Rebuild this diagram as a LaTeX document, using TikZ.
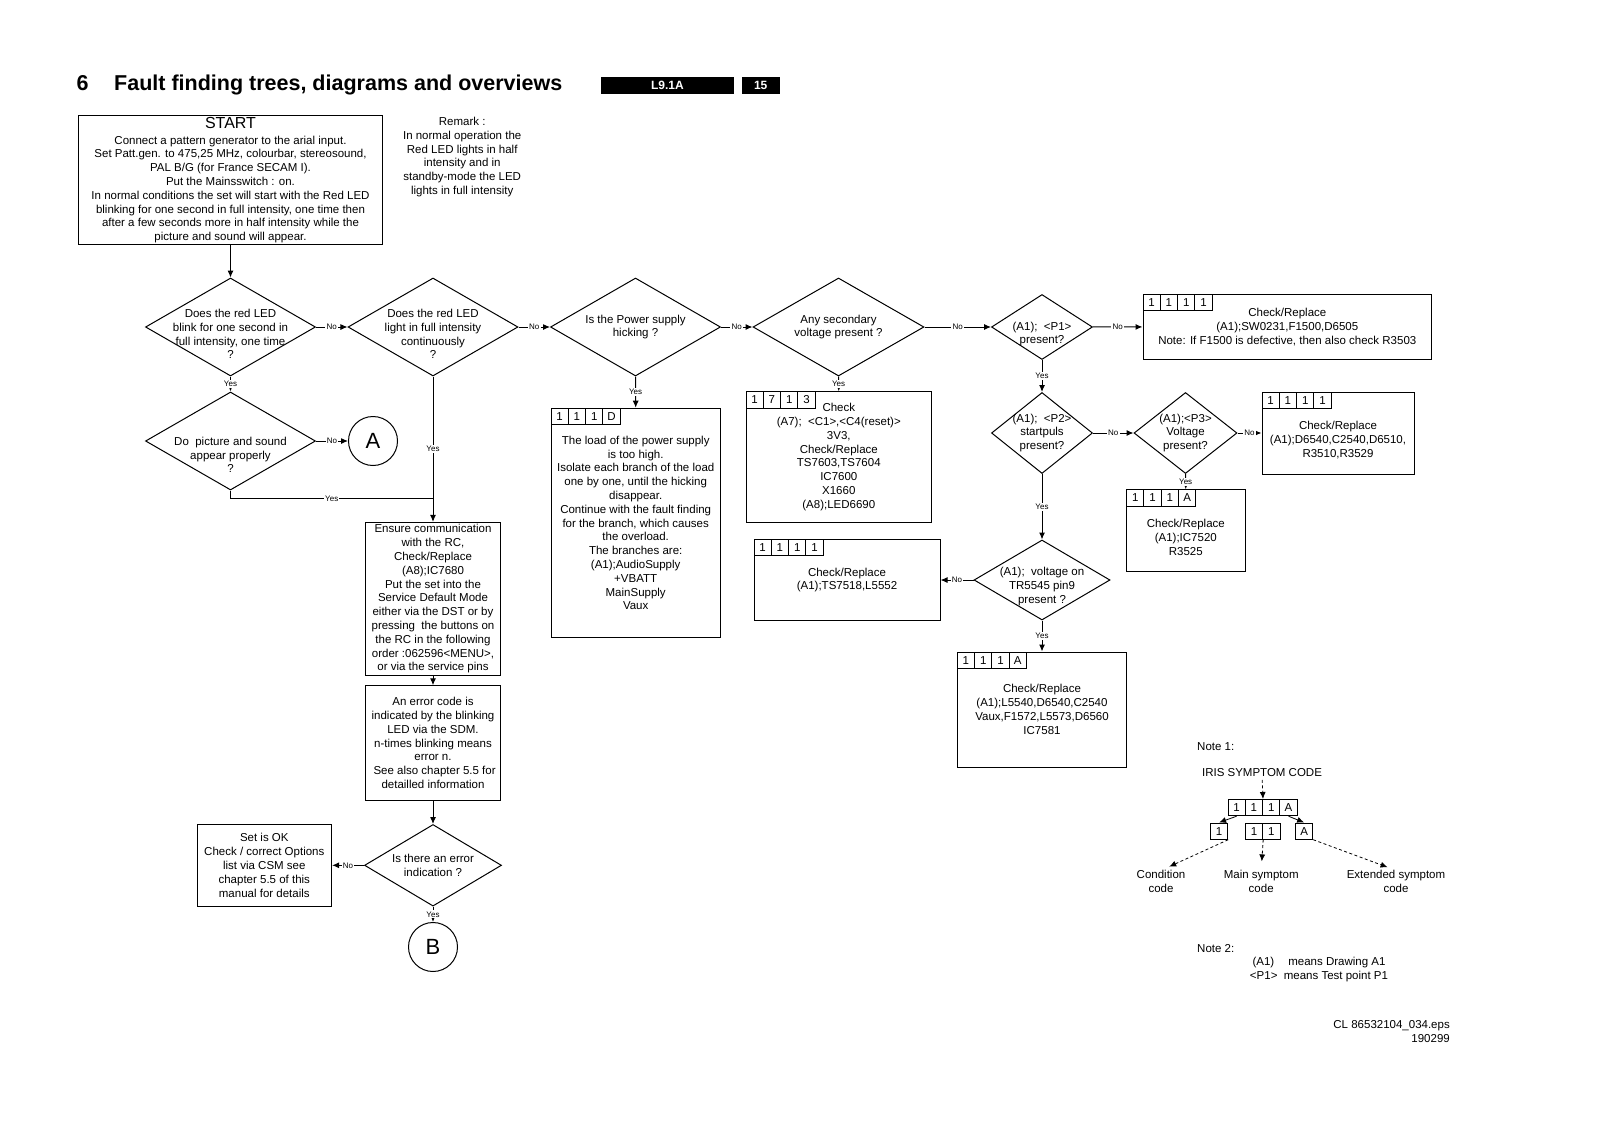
\documentclass[tikz,border=0pt]{standalone}
\usepackage{fontspec}
\setmainfont{Liberation Sans}
\usetikzlibrary{arrows.meta,shapes.geometric}

\begin{document}
\begin{tikzpicture}[x=1pt, y=-1pt,
    txt/.style      = {font=\fontsize{11.5}{13.8}\selectfont, align=center, inner sep=0pt},
    box/.style      = {txt, draw, line width=1pt},
    decision/.style = {draw, diamond, line width=1pt, inner sep=0pt},
    cell/.style     = {draw, line width=0.9pt, minimum width=17.3pt, minimum height=16.3pt,
                       inner sep=0pt, font=\fontsize{11.5}{13.8}\selectfont},
    conn/.style     = {draw, circle, line width=1pt, minimum size=49pt, inner sep=0pt,
                       font=\fontsize{22}{22}\selectfont},
    tag/.style      = {font=\fontsize{8}{9}\selectfont, fill=white, inner sep=1.2pt},
    flow/.style     = {line width=1pt, -{Latex[length=7pt,width=6pt]}},
    link/.style     = {line width=1pt},
    dflow/.style    = {line width=0.8pt, dash pattern=on 3pt off 2.5pt, -{Latex[length=7pt,width=6pt]}},
    bar/.style      = {fill=black, text=white, inner sep=0pt, minimum height=17.4pt,
                       font=\bfseries\fontsize{12}{13}\selectfont},
  ]
  \useasboundingbox (0,0) rectangle (1600,1132);

  % heading
  \node[anchor=base west, inner sep=0pt, font=\bfseries\fontsize{21.5}{24}\selectfont] (chapnum) at (76.5,90.5) {6};
  \node[anchor=base west, inner sep=0pt, font=\bfseries\fontsize{21.5}{24}\selectfont] (chaptitle) at (114,90.5)
       {Fault finding trees, diagrams and overviews};
  \node[bar, minimum width=132.7pt] (model) at (667.4,85.2) {L9.1A};
  \node[bar, minimum width=37.8pt] (page) at (760.7,85.2) {15};

  % start and remark
  \node[box, minimum width=304pt, minimum height=129.6pt] (start) at (230.5,180.1)
       {{\fontsize{16}{18}\selectfont START}\\[2pt]
        Connect a pattern generator to the arial input.\\
        Set Patt.gen. to 475,25 MHz, colourbar, stereosound,\\
        PAL B/G (for France SECAM I).\\
        Put the Mainsswitch : on.\\
        In normal conditions the set will start with the Red LED\\
        blinking for one second in full intensity, one time then\\
        after a few seconds more in half intensity while the\\
        picture and sound will appear.};
  \node[txt] (remark) at (462.2,157)
       {Remark :\\In normal operation the\\Red LED lights in half\\intensity and in\\standby-mode the LED\\lights in full intensity};

  % decisions, top row
  \node[decision, minimum width=170pt, minimum height=98pt] (ledblink) at (230.5,327) {};
  \node[decision, minimum width=170pt, minimum height=98pt] (ledcont) at (433,327) {};
  \node[decision, minimum width=170pt, minimum height=98pt] (hicking) at (635.5,327) {};
  \node[decision, minimum width=171pt, minimum height=98pt] (secvolt) at (838.5,327) {};
  \node[decision, minimum width=101pt, minimum height=65pt] (pone) at (1042,327) {};
  \node[txt] (ledblinktext) at ([yshift=-7pt]ledblink) {Does the red LED\\blink for one second in\\full intensity, one time\\?};
  \node[txt] (ledconttext) at ([yshift=-7pt]ledcont) {Does the red LED\\light in full intensity\\continuously\\?};
  \node[txt] (hickingtext) at (hicking) {Is the Power supply\\hicking ?};
  \node[txt] (secvolttext) at (secvolt) {Any secondary\\voltage present ?};
  \node[txt] (ponetext) at ([yshift=-7pt]pone) {(A1);\ \ <P1>\\present?};

  \node[decision, minimum width=170pt, minimum height=98pt] (picsound) at (230.5,441) {};
  \node[txt] (picsoundtext) at ([yshift=-14pt]picsound) {Do\ \ picture and sound\\appear properly\\?};
  \node[conn] (conA) at (373,441) {A};

  \node[decision, minimum width=101pt, minimum height=81pt] (ptwo) at (1042,433) {};
  \node[txt] (ptwotext) at (ptwo) {(A1);\ \ <P2>\\startpuls\\present?};
  \node[decision, minimum width=103pt, minimum height=81pt] (pthree) at (1185.5,433) {};
  \node[txt] (pthreetext) at (pthree) {(A1);<P3>\\Voltage\\present?};
  \node[decision, minimum width=136pt, minimum height=80pt] (pinnine) at (1042,580) {};
  \node[txt] (pinninetext) at ([yshift=-6.5pt]pinnine) {(A1);\ \ voltage on\\TR5545 pin9\\present ?};

  % check boxes
  \node[box, minimum width=288.6pt, minimum height=65.2pt] (swfuse) at (1287.3,326.8)
       {Check/Replace\\(A1);SW0231,F1500,D6505\\Note: If F1500 is defective, then also check R3503};
  \node[box, minimum width=169.4pt, minimum height=229.6pt] (load) at (635.7,523)
       {The load of the power supply\\is too high.\\Isolate each branch of the load\\one by one, until the hicking\\disappear.\\
        Continue with the fault finding\\for the branch, which causes\\the overload.\\The branches are:\\
        (A1);AudioSupply\\+VBATT\\MainSupply\\Vaux};
  \node[box, minimum width=185.6pt, minimum height=130.6pt] (reset) at (838.8,457.1)
       {Check\\(A7);\ \ <C1>,<C4(reset)>\\3V3,\\Check/Replace\\TS7603,TS7604\\IC7600\\X1660\\(A8);LED6690};
  \node[box, minimum width=152pt, minimum height=82pt] (auxsupply) at (1338,433) {};
  \node[txt] (auxsupplytext) at ([yshift=-7pt]auxsupply) {Check/Replace\\(A1);D6540,C2540,D6510,\\R3510,R3529};
  \node[box, minimum width=118.4pt, minimum height=81.6pt] (icbox) at (1185.8,530.6) {};
  \node[txt] (icboxtext) at ([yshift=-6.5pt]icbox) {Check/Replace\\(A1);IC7520\\R3525};
  \node[box, minimum width=186pt, minimum height=81.4pt] (tsbox) at (847,580)
       {Check/Replace\\(A1);TS7518,L5552};
  \node[box, minimum width=169.4pt, minimum height=115pt] (lbox) at (1042,709.5)
       {Check/Replace\\(A1);L5540,D6540,C2540\\Vaux,F1572,L5573,D6560\\IC7581};

  % code cells
  \foreach \b/\code in {swfuse/{1,1,1,1}, load/{1,1,1,D}, reset/{1,7,1,3}, auxsupply/{1,1,1,1},
                        icbox/{1,1,1,A}, tsbox/{1,1,1,1}, lbox/{1,1,1,A}}
    \foreach \c [count=\i] in \code
      \node[cell, anchor=north west] (\b-\i) at ([xshift={(\i-1)*17.3}]\b.north west) {\c};

  % left column
  \node[box, minimum width=135.7pt, minimum height=153.1pt] (ensure) at (433,599)
       {Ensure communication\\with the RC,\\Check/Replace\\(A8);IC7680\\Put the set into the\\Service Default Mode\\
        either via the DST or by\\pressing\ \ the buttons on\\the RC in the following\\order :062596<MENU>,\\or via the service pins};
  \node[box, minimum width=135.7pt, minimum height=114.3pt] (errcode) at (433,742.9)
       {An error code is\\indicated by the blinking\\LED via the SDM.\\n-times blinking means\\error n.\\
        \ See also chapter 5.5 for\\detailled information};
  \node[decision, minimum width=137pt, minimum height=81.6pt] (errind) at (433,865.3) {};
  \node[txt] (errindtext) at (errind) {Is there an error\\indication ?};
  \node[box, minimum width=134.6pt, minimum height=81.6pt] (setok) at (264.3,865.3)
       {Set is OK\\Check / correct Options\\list via CSM see\\chapter 5.5 of this\\manual for details};
  \node[conn] (conB) at (433,947) {B};

  \coordinate (join) at (433,498.3);

  % connectors
  \draw[flow] (start.south) -- (ledblink.north);
  \draw[flow] (ledblink) -- node[tag]{No} (ledcont);
  \draw[flow] (ledcont) -- node[tag]{No} (hicking);
  \draw[flow] (hicking) -- node[tag]{No} (secvolt);
  \draw[flow] (secvolt) -- node[tag]{No} (pone);
  \draw[flow] (pone) -- node[tag]{No} (swfuse);
  \draw[flow] (ledblink) -- node[tag]{Yes} (picsound);
  \draw[flow] (picsound) -- node[tag]{No} (conA);
  \draw[link] (picsound.south) |- node[tag, pos=0.75]{Yes} (join);
  \draw[flow] (ledcont.south) -- node[tag]{Yes} (ensure.north);
  \draw[flow] (hicking.south) -- node[tag]{Yes} (load.north);
  \draw[flow] (secvolt.south) -- node[tag]{Yes} (reset.north);
  \draw[flow] (pone) -- node[tag]{Yes} (ptwo);
  \draw[flow] (ptwo) -- node[tag]{No} (pthree);
  \draw[flow] (pthree) -- node[tag]{No} (auxsupply);
  \draw[flow] (pthree.south) -- node[tag]{Yes} (icbox.north);
  \draw[flow] (ptwo) -- node[tag]{Yes} (pinnine);
  \draw[flow] (pinnine) -- node[tag]{No} (tsbox);
  \draw[flow] (pinnine.south) -- node[tag]{Yes} (lbox.north);
  \draw[flow] (ensure) -- (errcode);
  \draw[flow] (errcode) -- (errind);
  \draw[flow] (errind) -- node[tag]{No} (setok);
  \draw[flow] (errind) -- node[tag]{Yes} (conB);

  % note 1
  \node[txt, anchor=base west] (noteone) at (1197,750) {Note 1:};
  \node[txt] (iristitle) at (1262,772.5) {IRIS SYMPTOM CODE};
  \foreach \c [count=\i] in {1,1,1,A}
    \node[cell, anchor=north west] (iris-\i) at ({1227.5+(\i-1)*17.3},799) {\c};
  \node[cell, anchor=north west] (cond) at (1210,822.5) {1};
  \node[cell, anchor=north west] (main-1) at (1245,822.5) {1};
  \node[cell, anchor=north west] (main-2) at (1262.3,822.5) {1};
  \node[cell, anchor=north west] (ext) at (1295,822.5) {A};
  \node[txt] (condtext) at (1161,881.7) {Condition\\code};
  \node[txt] (maintext) at (1261.2,881.7) {Main symptom\\code};
  \node[txt] (exttext) at (1396,881.7) {Extended symptom\\code};
  \draw[dflow, shorten <=3pt] (iristitle.south) -- (iris-2.north east);
  \draw[flow, line width=0.8pt] (iris-1.south) -- (cond.north);
  \draw[flow, line width=0.8pt] (iris-4.south) -- (ext.north);
  \draw[dflow, shorten >=9pt] (cond.south east) -- (condtext.north);
  \draw[dflow, shorten >=9pt] (main-1.south east) -- (maintext.north);
  \draw[dflow, shorten >=9pt] (ext.south east) -- (exttext.north);

  % note 2
  \node[txt, anchor=base west] (notetwo) at (1197,952) {Note 2:};
  \node[txt] (notetwotext) at (1319,969.4) {(A1)\hspace{14pt}means Drawing A1\\<P1>\ \ means Test point P1};

  \node[txt, align=right, anchor=east] (fileref) at (1450,1031.6) {CL 86532104\_034.eps\\190299};
\end{tikzpicture}
\end{document}
